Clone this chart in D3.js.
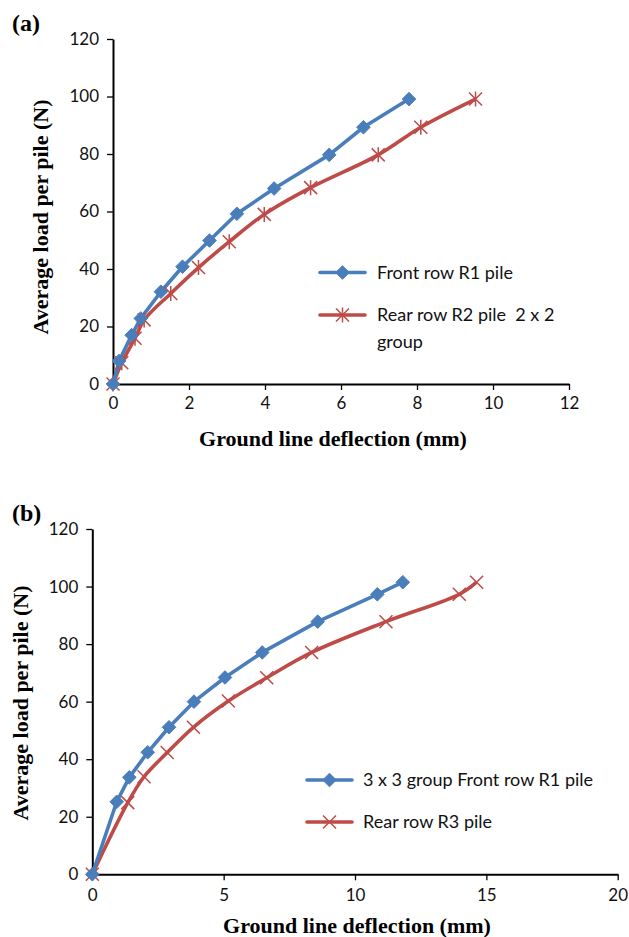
<!DOCTYPE html>
<html>
<head>
<meta charset="utf-8">
<script src="https://cdn.jsdelivr.net/npm/d3@7"></script>
<style>
  html, body { margin: 0; padding: 0; background: #fff; }
  svg { display: block; }
  .tick text { font-family: Lato, "Open Sans", sans-serif; font-size: 17px; fill: #111; }
  .title { font-family: "Liberation Serif", "Times New Roman", serif; font-weight: bold; font-size: 22px; fill: #000; }
  .tag { font-family: "Liberation Serif", "Times New Roman", serif; font-weight: bold; font-size: 24px; fill: #000; }
  .legend text { font-family: Lato, "Open Sans", sans-serif; font-size: 18px; fill: #111; white-space: pre; }
</style>
</head>
<body>
<svg id="chart" width="629" height="937"></svg>
<script>
// Panel (a): 2 x 2 group
const aFrontX = [0, 0.16, 0.49, 0.73, 1.26, 1.83, 2.54, 3.26, 4.24, 5.69, 6.59, 7.79];
const aFrontY = [0, 8, 17, 22.8, 32.1, 40.8, 49.9, 59.2, 68, 79.7, 89.3, 99.1];
const aRearX  = [0, 0.23, 0.58, 0.82, 1.52, 2.25, 3.06, 3.98, 5.2, 6.98, 8.1, 9.54];
const aRearY  = [0, 7.4, 15.9, 22.3, 31.5, 40.5, 49.5, 59, 68.3, 79.7, 89.3, 99.1];
const aXTicks = [0, 2, 4, 6, 8, 10, 12];
const aYTicks = [0, 20, 40, 60, 80, 100, 120];
const aLegend = [["Front row R1 pile"], ["Rear row R2 pile  2 x 2", "group"]];

// Panel (b): 3 x 3 group
const bFrontX = [0, 0.93, 1.41, 2.11, 2.92, 3.87, 5.05, 6.47, 8.58, 10.85, 11.82];
const bFrontY = [0, 25.2, 33.7, 42.4, 51.1, 60, 68.4, 77.1, 87.8, 97.3, 101.5];
const bRearX  = [0, 1.35, 1.97, 2.85, 3.85, 5.18, 6.64, 8.35, 11.18, 13.97, 14.63];
const bRearY  = [0, 24.9, 33.9, 42.3, 51.1, 60.2, 68.3, 77.1, 87.8, 97.3, 101.5];
const bXTicks = [0, 5, 10, 15, 20];
const bYTicks = [0, 20, 40, 60, 80, 100, 120];
const bLegend = [["3 x 3 group Front row R1 pile"], ["Rear row R3 pile"]];

const xTitle = "Ground line deflection (mm)";
const yTitle = "Average load per pile (N)";

const BLUE = "#4A7EBB";
const RED = "#BE4B48";

const svg = d3.select("#chart");

function zip(xs, ys) { return xs.map((x, i) => ({ x: x, y: ys[i] })); }

function drawPanel(cfg) {
  const g = svg.append("g");
  const x = d3.scaleLinear().domain([0, cfg.xMax]).range([cfg.left, cfg.right]);
  const y = d3.scaleLinear().domain([0, 120]).range([cfg.bottom, cfg.top]);

  // axes
  const xAxis = d3.axisBottom(x).tickValues(cfg.xTicks).tickSize(6).tickPadding(cfg.xPad).tickSizeOuter(0);
  const yAxis = d3.axisLeft(y).tickValues(cfg.yTicks).tickSize(6).tickPadding(8).tickSizeOuter(0);
  const gx = g.append("g").attr("transform", `translate(0,${cfg.bottom})`).call(xAxis);
  const gy = g.append("g").attr("transform", `translate(${cfg.left},0)`).call(yAxis);
  [gx, gy].forEach(a => {
    a.select(".domain").attr("stroke", "#000").attr("stroke-width", 2);
    a.selectAll(".tick line").attr("stroke", "#000").attr("stroke-width", 1.3);
  });

  // series lines
  const lineLinear = d3.line().x(d => x(d.x)).y(d => y(d.y));
  const lineSmooth = d3.line().x(d => x(d.x)).y(d => y(d.y)).curve(d3.curveCatmullRom.alpha(0.5));
  const front = zip(cfg.frontX, cfg.frontY);
  const rear = zip(cfg.rearX, cfg.rearY);

  g.append("path").datum(rear).attr("d", lineSmooth)
    .attr("fill", "none").attr("stroke", RED).attr("stroke-width", 3.6).attr("stroke-linejoin", "round");
  g.append("path").datum(front).attr("d", lineLinear)
    .attr("fill", "none").attr("stroke", BLUE).attr("stroke-width", 3.6).attr("stroke-linejoin", "round");

  // rear markers (asterisk or cross)
  const rm = g.append("g");
  rear.forEach(d => drawRearMarker(rm, x(d.x), y(d.y), cfg.star));

  // front markers (diamonds)
  const fm = g.append("g");
  front.forEach(d => drawDiamond(fm, x(d.x), y(d.y)));

  // titles
  g.append("text").attr("class", "title")
    .attr("x", cfg.xTitleX).attr("y", cfg.xTitleY).attr("text-anchor", "middle").text(xTitle);
  g.append("text").attr("class", "title")
    .attr("transform", `translate(${cfg.yTitleX},${cfg.yTitleY}) rotate(-90)`)
    .attr("text-anchor", "middle").text(yTitle);
  g.append("text").attr("class", "tag")
    .attr("x", 12).attr("y", cfg.tagY).text(cfg.tag);

  // legend
  const lg = g.append("g").attr("class", "legend");
  cfg.legend.forEach((lines, i) => {
    const ly = cfg.legY[i];
    lg.append("line").attr("x1", cfg.legX1).attr("x2", cfg.legX2).attr("y1", ly).attr("y2", ly)
      .attr("stroke", i === 0 ? BLUE : RED).attr("stroke-width", 3.6).attr("stroke-linecap", "round");
    const mx = (cfg.legX1 + cfg.legX2) / 2;
    if (i === 0) drawDiamond(lg, mx, ly); else drawRearMarker(lg, mx, ly, cfg.star);
    lines.forEach((t, j) => {
      lg.append("text").attr("x", cfg.legTextX).attr("y", ly + 6 + j * 27)
        .attr("xml:space", "preserve").text(t);
    });
  });
}

function drawDiamond(sel, cx, cy) {
  const r = 6.8;
  sel.append("path")
    .attr("d", `M${cx},${cy - r}L${cx + r},${cy}L${cx},${cy + r}L${cx - r},${cy}Z`)
    .attr("fill", BLUE).attr("stroke", BLUE).attr("stroke-width", 1);
}

function drawRearMarker(sel, cx, cy, star) {
  const r = 6.5;
  const p = `M${cx - r},${cy - r}L${cx + r},${cy + r}M${cx - r},${cy + r}L${cx + r},${cy - r}` +
    (star ? `M${cx},${cy - r - 1}L${cx},${cy + r + 1}` : "");
  sel.append("path").attr("d", p).attr("stroke", RED).attr("stroke-width", 1.5).attr("fill", "none");
}

drawPanel({
  left: 113, right: 569, top: 39, bottom: 384, xMax: 12,
  xTicks: aXTicks, yTicks: aYTicks, xPad: 7,
  frontX: aFrontX, frontY: aFrontY, rearX: aRearX, rearY: aRearY,
  star: true,
  xTitleX: 333, xTitleY: 446, yTitleX: 48, yTitleY: 217,
  tag: "(a)", tagY: 31,
  legend: aLegend, legY: [272.5, 315], legX1: 320, legX2: 365, legTextX: 377
});

drawPanel({
  left: 92.3, right: 617.7, top: 529, bottom: 874.3, xMax: 20,
  xTicks: bXTicks, yTicks: bYTicks, xPad: 9,
  frontX: bFrontX, frontY: bFrontY, rearX: bRearX, rearY: bRearY,
  star: false,
  xTitleX: 357, xTitleY: 933, yTitleX: 28, yTitleY: 703,
  tag: "(b)", tagY: 521,
  legend: bLegend, legY: [780, 822], legX1: 307, legX2: 352, legTextX: 363
});
</script>
</body>
</html>
